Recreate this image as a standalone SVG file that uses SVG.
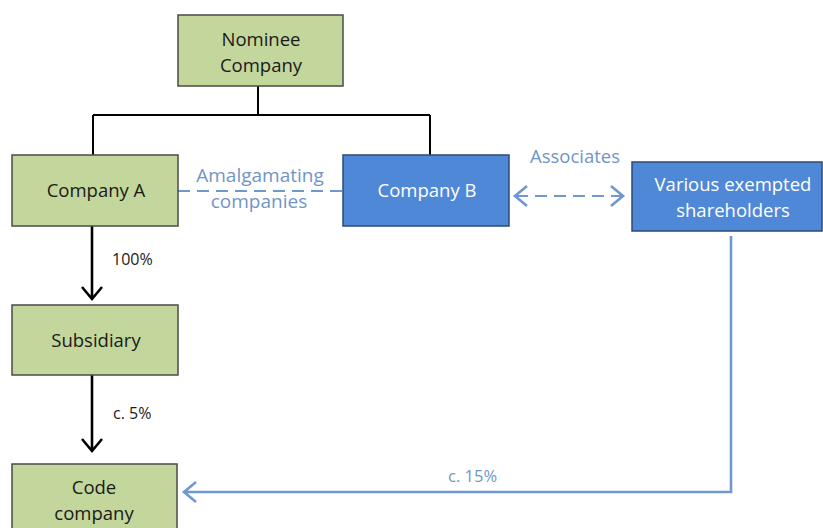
<svg xmlns="http://www.w3.org/2000/svg" width="823" height="528" viewBox="0 0 823 528">
<style>
.g{fill:#c3d69b;stroke:#4a4a4a;stroke-width:1.5}
.b{fill:#4f88d6;stroke:#2b4a75;stroke-width:1.5}
.t{font-family:"Open Sans","Noto Sans",sans-serif;font-size:18.5px;text-anchor:middle;fill:#1a1a1a}
.tw{fill:#ffffff}
.lb{font-family:"Open Sans","Noto Sans",sans-serif;font-size:16px;fill:#1a1a1a}
.lbb{font-family:"Open Sans","Noto Sans",sans-serif;fill:#7095c8}
.k{fill:none;stroke:#000;stroke-width:2}
.kb{fill:none;stroke:#000;stroke-width:2.6}
.bl{fill:none;stroke:#6f97d0;stroke-width:2.6}
.dash{fill:none;stroke:#6f97d0;stroke-width:2;stroke-dasharray:12 7}
</style>
<rect width="823" height="528" fill="#ffffff"/>
<g id="connectors">
<path class="k" d="M258 86 V115 M93 115 H430 M93 115 V155 M430 115 V155"/>
<line class="dash" x1="178" y1="191" x2="343" y2="191"/>
<text class="lbb" x="260" y="182" font-size="19" text-anchor="middle">Amalgamating</text>
<text class="lbb" x="259" y="208" font-size="19" text-anchor="middle">companies</text>
<line class="dash" x1="516" y1="196" x2="622" y2="196" stroke-width="2.6" stroke-dasharray="17 10"/>
<path class="bl" d="M527 186 L515 196 L527 206 M611 186 L623 196 L611 206"/>
<text class="lbb" x="575" y="163" font-size="18.5" text-anchor="middle">Associates</text>
<path class="kb" d="M92 226 V299 M82 287 L92 299 L102 287"/>
<text class="lb" x="112" y="265">100%</text>
<path class="kb" d="M92 375 V451 M82 439 L92 451 L102 439"/>
<text class="lb" x="113" y="419">c. 5%</text>
<path class="bl" d="M731 236 V492 H184 M196 482 L184 492 L196 502"/>
<text class="lbb" x="448" y="482" font-size="16.5">c. 15%</text>
</g>
<g id="nominee">
<rect class="g" x="178" y="15" width="165" height="71"/>
<text class="t" x="261" y="46">Nominee</text>
<text class="t" x="261" y="72">Company</text>
</g>
<g id="companyA">
<rect class="g" x="12" y="155" width="166" height="71"/>
<text class="t" x="96" y="197">Company A</text>
</g>
<g id="companyB">
<rect class="b" x="343" y="155" width="166" height="71"/>
<text class="t tw" x="427" y="197">Company B</text>
</g>
<g id="shareholders">
<rect class="b" x="632" y="162" width="190" height="69"/>
<text class="t tw" x="733" y="191">Various exempted</text>
<text class="t tw" x="733" y="217">shareholders</text>
</g>
<g id="subsidiary">
<rect class="g" x="12" y="305" width="166" height="70"/>
<text class="t" x="96" y="347">Subsidiary</text>
</g>
<g id="code">
<rect class="g" x="12" y="464" width="165" height="75"/>
<text class="t" x="94" y="494">Code</text>
<text class="t" x="94" y="520">company</text>
</g>
</svg>
